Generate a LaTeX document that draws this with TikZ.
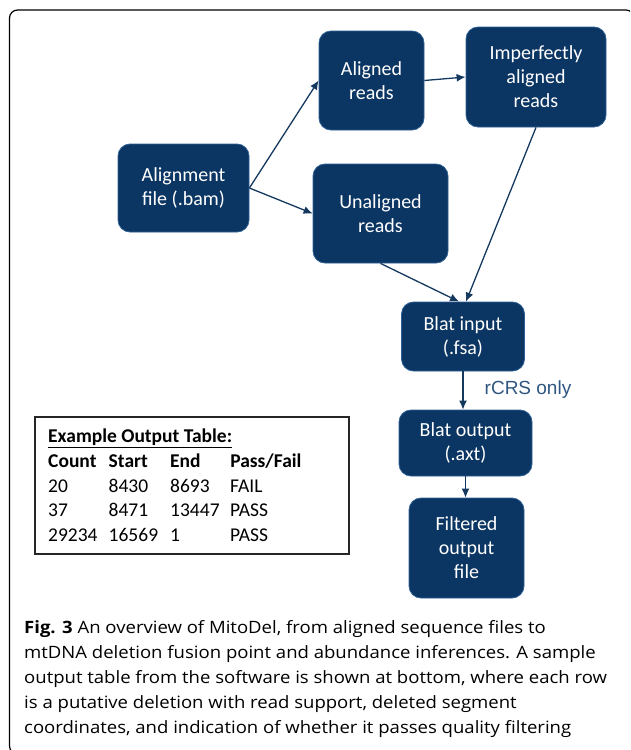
\documentclass[tikz,border=0pt]{standalone}
\usepackage{fontspec}
\setmainfont[FakeStretch=1.09]{Open Sans}
\newfontfamily\boxfont{Carlito}
\newfontfamily\lblfont{Liberation Sans}
\usetikzlibrary{arrows.meta}
\definecolor{navy}{HTML}{0B3562}
\definecolor{navyedge}{HTML}{2F6096}
\definecolor{arrowc}{HTML}{15385F}
\definecolor{lblc}{HTML}{2E5680}
\tikzset{
  flowbox/.style={draw=navyedge, line width=0.8pt, fill=navy, rounded corners=12pt,
    text=white, align=center, inner sep=0pt,
    font=\boxfont\fontsize{20}{24}\selectfont},
  flowarrow/.style={draw=arrowc, line width=1.3pt, -{Latex[length=9pt,width=8pt]}},
  capline/.style={anchor=base west, inner sep=0pt, font=\fontsize{17}{20}\selectfont}
}
\begin{document}
\begin{tikzpicture}[x=1pt,y=-1pt]
\useasboundingbox (0,0) rectangle (630,750);
\clip (0,0) rectangle (630,750);
\draw[line width=1.2pt, rounded corners=8pt] (9.5,10) rectangle (634,754);

\node[flowbox, minimum width=105pt, minimum height=99pt] (aligned) at (371.5,80.5) {Aligned\\reads};
\node[flowbox, minimum width=140pt, minimum height=100pt] (imperfect) at (536,77) {Imperfectly\\aligned\\reads};
\node[flowbox, minimum width=131pt, minimum height=88pt] (bam) at (183.5,188) {Alignment\\file (.bam)};
\node[flowbox, minimum width=135pt, minimum height=99pt] (unaligned) at (380.5,213.5) {Unaligned\\reads};
\node[flowbox, minimum width=123pt, minimum height=69pt] (blatin) at (463,336.5) {Blat input\\(.fsa)};
\node[flowbox, minimum width=133pt, minimum height=66pt] (blatout) at (465.5,443) {Blat output\\(.axt)};
\node[flowbox, minimum width=115pt, minimum height=100pt] (filtered) at (466.5,548) {Filtered\\output\\file};

\draw[flowarrow] (bam.east) -- (aligned.west);
\draw[flowarrow] (bam.east) -- (unaligned.west);
\draw[flowarrow] (aligned.east) -- (imperfect.west);
\draw[flowarrow] (imperfect.south) -- ([xshift=3pt]blatin.north);
\draw[flowarrow] (unaligned.south) -- ([xshift=-4pt]blatin.north);
\draw[flowarrow] (blatin.south) -- (blatin.south |- blatout.north);
\draw[flowarrow] (blatout.south) -- (blatout.south |- filtered.north);
\node[text=lblc, font=\lblfont\fontsize{19}{22}\selectfont, inner sep=0pt] (rcrs) at (528,390) {rCRS only};

\node[draw=black!85, line width=1.3pt, minimum width=314pt, minimum height=137pt, inner sep=0pt] (tblbox) at (192,485.5) {};
\node[anchor=base west, inner sep=0pt, font=\boxfont\fontsize{19.5}{24.75}\selectfont] (tbl) at (48,442.5) {%
\begin{tabular}[t]{@{}p{60.5pt}@{}p{61.5pt}@{}p{60pt}@{}l@{}}
\multicolumn{4}{@{}l@{}}{\textbf{\underline{Example Output Table:}}}\\
\textbf{Count} & \textbf{Start} & \textbf{End} & \textbf{Pass/Fail}\\
20 & 8430 & 8693 & FAIL\\
37 & 8471 & 13447 & PASS\\
29234 & 16569 & 1 & PASS
\end{tabular}};

\node[capline] (cap1) at (24,633) {\textbf{Fig. 3} An overview of MitoDel, from aligned sequence files to};
\node[capline] (cap2) at (24,658) {mtDNA deletion fusion point and abundance inferences. A sample};
\node[capline] (cap3) at (24,683) {output table from the software is shown at bottom, where each row};
\node[capline] (cap4) at (24,708) {is a putative deletion with read support, deleted segment};
\node[capline] (cap5) at (24,733) {coordinates, and indication of whether it passes quality filtering};
\end{tikzpicture}
\end{document}
